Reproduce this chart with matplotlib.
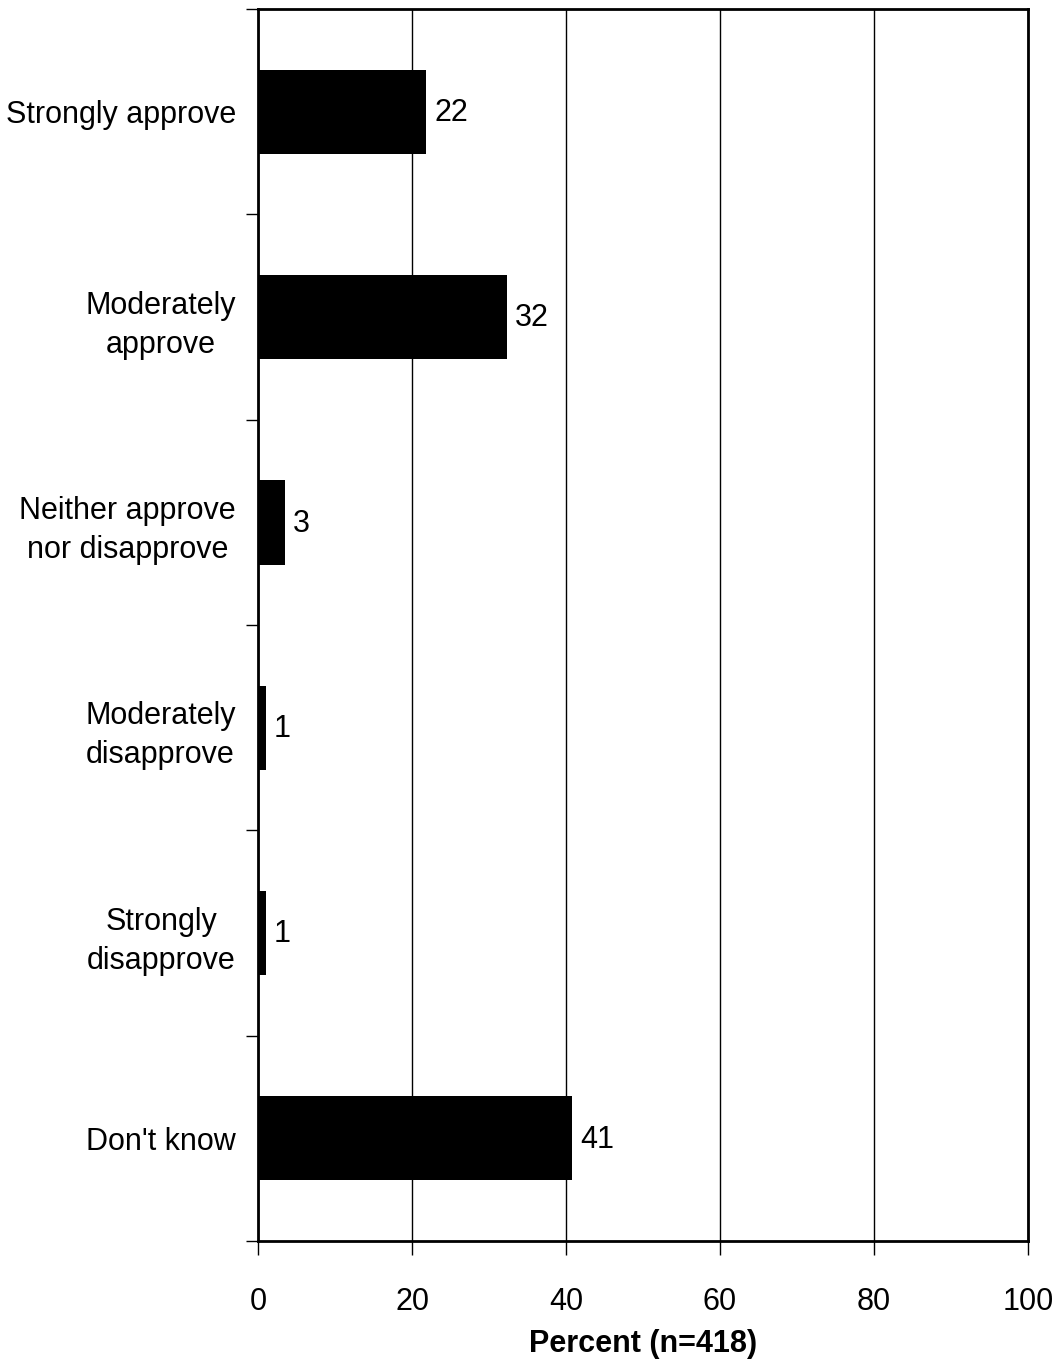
import numpy as np
import matplotlib.pyplot as plt

plt.rcParams['font.family'] = ['Liberation Sans', 'DejaVu Sans']

# Survey responses
categories = ['Strongly approve', 'Moderately\napprove', 'Neither approve\nnor disapprove',
              'Moderately\ndisapprove', 'Strongly\ndisapprove', "Don't know"]
values = [21.8, 32.3, 3.5, 1.0, 1.0, 40.8]
value_labels = ['22', '32', '3', '1', '1', '41']
x_ticks = [0, 20, 40, 60, 80, 100]

fig = plt.figure(figsize=(10.58, 13.59), dpi=100)
ax = fig.add_axes([0.2439, 0.0868, 0.7278, 0.9065])

y = np.arange(len(categories))
ax.barh(y, values, height=0.41, color='black', zorder=3)

for yi, v, lab in zip(y, values, value_labels):
    ax.annotate(lab, (v, yi), xytext=(6, -1), textcoords='offset points',
                va='center', ha='left', fontsize=22)

ax.set_xlim(0, 100)
ax.set_ylim(len(categories) - 0.5, -0.5)

ax.set_xticks(x_ticks)
ax.set_xticklabels([str(t) for t in x_ticks], fontsize=22)
ax.tick_params(axis='x', direction='out', length=10, width=1, pad=23)
ax.xaxis.grid(True, color='black', linewidth=1, zorder=0)

ax.set_yticks(y)
ax.set_yticklabels(categories, fontsize=22, multialignment='center', linespacing=1.4)
ax.tick_params(axis='y', which='major', length=0, pad=16)
ax.set_yticks(np.arange(-0.5, len(categories), 1.0), minor=True)
ax.tick_params(axis='y', which='minor', direction='out', length=9, width=1)

for s in ax.spines.values():
    s.set_linewidth(2)

ax.set_xlabel('Percent (n=418)', fontsize=22, fontweight='bold', labelpad=9)

fig.savefig('out.png', dpi=100)
